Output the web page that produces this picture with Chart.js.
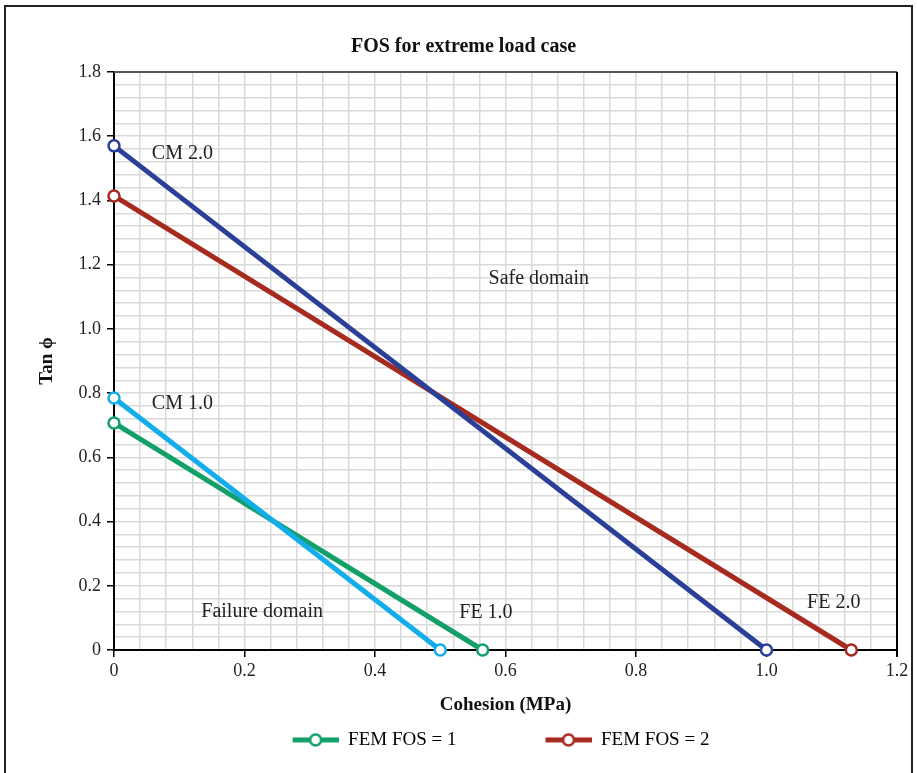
<!DOCTYPE html>
<html>
<head>
<meta charset="utf-8">
<title>FOS for extreme load case</title>
<script src="https://cdn.jsdelivr.net/npm/chart.js@4.4.1/dist/chart.umd.min.js"></script>
<style>
  html, body { margin: 0; padding: 0; background: #fff; }
  #wrap { position: relative; width: 917px; height: 773px; overflow: hidden; }
  #frame { position: absolute; left: 4px; top: 5px; width: 909px; height: 800px; border: 2px solid #222; box-sizing: border-box; }
  canvas { position: absolute; left: 0; top: 0; }
</style>
</head>
<body>
<div id="wrap">
  <div id="frame"></div>
  <canvas id="fosChart" width="917" height="773"></canvas>
</div>
<script>
// line end points: [cohesion, tan phi]
var cm20Points = [{x: 0, y: 1.57}, {x: 1.0, y: 0}];
var fe20Points = [{x: 0, y: 1.414}, {x: 1.13, y: 0}];
var cm10Points = [{x: 0, y: 0.785}, {x: 0.5, y: 0}];
var fe10Points = [{x: 0, y: 0.707}, {x: 0.565, y: 0}];

var seriesNames = ["CM 2.0", "FEM FOS = 2", "CM 1.0", "FEM FOS = 1"];
var legendNames = ["FEM FOS = 1", "FEM FOS = 2"];

// text notes on the plot, placed in data units
var noteTexts = ["CM 2.0", "Safe domain", "CM 1.0", "Failure domain", "FE 1.0", "FE 2.0"];
var noteX = [0.058, 0.651, 0.058, 0.227, 0.570, 1.103];
var noteY = [1.545, 1.155, 0.766, 0.118, 0.115, 0.146];
var noteAlign = ["left", "center", "left", "center", "center", "center"];

var xTicks = {min: 0, max: 1.2, minor: 0.04, major: 0.2};
var yTicks = {min: 0, max: 1.8, minor: 0.04, major: 0.2};

var serif = "'Liberation Serif', 'DejaVu Serif', serif";
var darkBlue = "#2a3f96";
var red = "#a62a1e";
var lightBlue = "#13aee9";
var green = "#12a068";

function isMajor(v, step) {
    var r = v / step;
    return Math.abs(r - Math.round(r)) < 1e-6;
}

function fmtTick(v) {
    if (Math.abs(v) < 1e-9) return "0";
    return v.toFixed(1);
}

//legend symbol: line with open circle, blank space on the left for spacing
function makeSymbol(color) {
    var c = document.createElement("canvas");
    c.width = 121;
    c.height = 16;
    var g = c.getContext("2d");
    g.strokeStyle = color;
    g.lineWidth = 5;
    g.beginPath();
    g.moveTo(75, 8);
    g.lineTo(121, 8);
    g.stroke();
    g.beginPath();
    g.arc(98, 8, 5.5, 0, Math.PI * 2);
    g.fillStyle = "#fff";
    g.fill();
    g.lineWidth = 2.5;
    g.stroke();
    return c;
}

function makeSet(label, points, color) {
    return {
        label: label,
        data: points,
        borderColor: color,
        backgroundColor: "#fff",
        borderWidth: 5,
        pointRadius: 5.5,
        pointBorderWidth: 2.5,
        pointBackgroundColor: "#fff",
        pointBorderColor: color,
        pointHoverRadius: 5.5,
        showLine: true,
        clip: false,
        tension: 0
    };
}

var notesPlugin = {
    id: "notes",
    afterDatasetsDraw: function(chart) {
        var ctx = chart.ctx;
        var xs = chart.scales.x;
        var ys = chart.scales.y;
        ctx.save();
        ctx.font = "20px " + serif;
        ctx.fillStyle = "#222";
        ctx.textBaseline = "middle";
        for (var i = 0; i < noteTexts.length; i++) {
            ctx.textAlign = noteAlign[i];
            ctx.fillText(noteTexts[i], xs.getPixelForValue(noteX[i]), ys.getPixelForValue(noteY[i]));
        }
        ctx.restore();
    }
};

var framePlugin = {
    id: "frame",
    beforeDatasetsDraw: function(chart) {
        var a = chart.chartArea;
        var ctx = chart.ctx;
        ctx.save();
        ctx.lineWidth = 2;
        ctx.strokeStyle = "#555";
        ctx.beginPath();
        ctx.moveTo(a.left, a.top);
        ctx.lineTo(a.right, a.top);
        ctx.stroke();
        ctx.strokeStyle = "#000";
        ctx.beginPath();
        ctx.moveTo(a.right, a.top);
        ctx.lineTo(a.right, a.bottom + 7);
        ctx.stroke();
        ctx.restore();
    }
};

var ctx = document.getElementById("fosChart").getContext("2d");
new Chart(ctx, {
    type: "scatter",
    data: {
        datasets: [
            makeSet(seriesNames[0], cm20Points, darkBlue),
            makeSet(seriesNames[1], fe20Points, red),
            makeSet(seriesNames[2], cm10Points, lightBlue),
            makeSet(seriesNames[3], fe10Points, green)
        ]
    },
    options: {
        responsive: false,
        animation: false,
        layout: {padding: {left: 30, right: 20, top: 0, bottom: 13.6}},
        plugins: {
            title: {
                display: true,
                text: "FOS for extreme load case",
                color: "#111",
                font: {family: serif, size: 20, weight: "bold"},
                padding: {top: 35, bottom: 13}
            },
            legend: {
                position: "bottom",
                labels: {
                    color: "#111",
                    font: {family: serif, size: 19},
                    usePointStyle: true,
                    pointStyleWidth: 121,
                    padding: 14,
                    generateLabels: function(chart) {
                        var cols = [green, red];
                        return legendNames.map(function(name, i) {
                            return {
                                text: name,
                                fillStyle: "#fff",
                                strokeStyle: cols[i],
                                lineWidth: 0,
                                pointStyle: makeSymbol(cols[i]),
                                hidden: false,
                                datasetIndex: seriesNames.indexOf(name)
                            };
                        });
                    }
                }
            },
            tooltip: {enabled: false}
        },
        scales: {
            x: {
                type: "linear",
                min: xTicks.min,
                max: xTicks.max,
                afterFit: function(scale) { scale.height = 66.4; },
                ticks: {
                    stepSize: xTicks.minor,
                    autoSkip: false,
                    maxRotation: 0,
                    padding: 3,
                    color: "#222",
                    font: {family: serif, size: 18},
                    callback: function(v) { return isMajor(v, xTicks.major) ? fmtTick(v) : ""; }
                },
                grid: {
                    color: "#d9d9d9",
                    lineWidth: 1.5,
                    tickLength: 7,
                    tickColor: function(c) { return isMajor(c.tick.value, xTicks.major) ? "#000" : "rgba(0,0,0,0)"; },
                    tickWidth: 1.5
                },
                border: {color: "#000", width: 2},
                title: {
                    display: true,
                    text: "Cohesion (MPa)",
                    color: "#111",
                    font: {family: serif, size: 19, weight: "bold"},
                    padding: {top: 0, bottom: 0}
                }
            },
            y: {
                type: "linear",
                min: yTicks.min,
                max: yTicks.max,
                afterFit: function(scale) { scale.width = 84; },
                ticks: {
                    stepSize: yTicks.minor,
                    autoSkip: false,
                    padding: 6,
                    color: "#222",
                    font: {family: serif, size: 18},
                    callback: function(v) { return isMajor(v, yTicks.major) ? fmtTick(v) : ""; }
                },
                grid: {
                    color: "#d9d9d9",
                    lineWidth: 1.5,
                    tickLength: 7,
                    tickColor: function(c) { return isMajor(c.tick.value, yTicks.major) ? "#000" : "rgba(0,0,0,0)"; },
                    tickWidth: 1.5
                },
                border: {color: "#000", width: 2},
                title: {
                    display: true,
                    text: "Tan ϕ",
                    color: "#111",
                    font: {family: serif, size: 19, weight: "bold"},
                    padding: {top: 6, bottom: 0}
                }
            }
        }
    },
    plugins: [framePlugin, notesPlugin]
});
</script>
</body>
</html>
